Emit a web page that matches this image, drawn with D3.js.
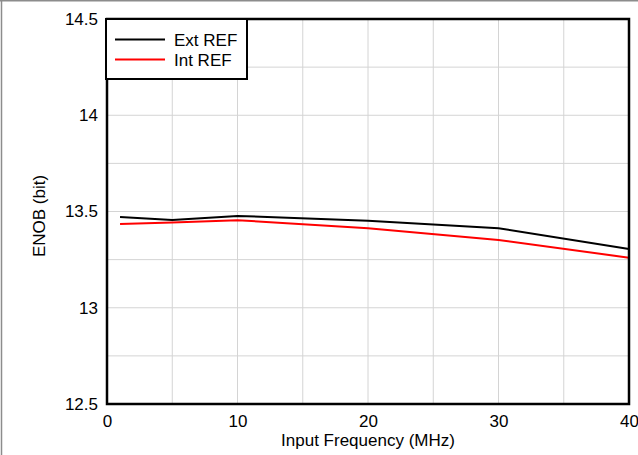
<!DOCTYPE html>
<html><head><meta charset="utf-8">
<script src="https://cdn.jsdelivr.net/npm/d3@7"></script>
<style>body{margin:0;background:#fff}svg{display:block}text{font-family:"Liberation Sans",Arial,sans-serif;fill:#000}</style>
</head><body>
<svg id="c" width="638" height="455"></svg>
<script>
const freq = [1, 5, 10, 20, 30, 40];
const extRef = [13.471, 13.456, 13.477, 13.452, 13.413, 13.305];
const intRef = [13.435, 13.443, 13.455, 13.413, 13.352, 13.26];
const seriesNames = ["Ext REF", "Int REF"];
const seriesColors = ["#000000", "#ff0000"];
const xTicks = [0, 10, 20, 30, 40];
const yTicks = [12.5, 13, 13.5, 14, 14.5];
const xGrid = [5, 10, 15, 20, 25, 30, 35];
const yGrid = [12.75, 13, 13.25, 13.5, 13.75, 14, 14.25];

const svg = d3.select("#c");
const L = 107, R = 629, T = 19, B = 404;
const x = d3.scaleLinear().domain([0, 40]).range([L, R]);
const y = d3.scaleLinear().domain([12.5, 14.5]).range([B, T]);

// outer border (top & left visible)
svg.append("line").attr("x1",0).attr("x2",638).attr("y1",0.75).attr("y2",0.75).attr("stroke","#8c8c8c").attr("stroke-width",1.5);
svg.append("line").attr("x1",1.5).attr("x2",1.5).attr("y1",0).attr("y2",455).attr("stroke","#8c8c8c").attr("stroke-width",1.5);

// grid
svg.append("g").selectAll("line").data(xGrid).join("line")
  .attr("x1",d=>x(d)).attr("x2",d=>x(d)).attr("y1",T).attr("y2",B)
  .attr("stroke","#d4d4d4").attr("stroke-width",1);
svg.append("g").selectAll("line").data(yGrid).join("line")
  .attr("x1",L).attr("x2",R).attr("y1",d=>y(d)).attr("y2",d=>y(d))
  .attr("stroke","#d4d4d4").attr("stroke-width",1);

// axes (labels only)
const xa = svg.append("g").attr("transform",`translate(0,${B})`)
  .call(d3.axisBottom(x).tickValues(xTicks).tickSize(0).tickPadding(11).tickFormat(d3.format("d")));
xa.select(".domain").remove();
xa.selectAll("text").attr("font-size",17).style("font-family","Liberation Sans, Arial, sans-serif");
const ya = svg.append("g").attr("transform",`translate(${L},0)`)
  .call(d3.axisLeft(y).tickValues(yTicks).tickSize(0).tickPadding(9).tickFormat(d=>String(d)));
ya.select(".domain").remove();
ya.selectAll("text").attr("font-size",17).style("font-family","Liberation Sans, Arial, sans-serif");

// series
const line = d3.line().x(d=>x(d[0])).y(d=>y(d[1]));
[extRef, intRef].forEach((vals,i)=>{
  svg.append("path").datum(freq.map((f,j)=>[f,vals[j]]))
    .attr("d",line).attr("fill","none").attr("stroke",seriesColors[i]).attr("stroke-width",2);
});

// frame
svg.append("rect").attr("x",L).attr("y",T).attr("width",R-L).attr("height",B-T)
  .attr("fill","none").attr("stroke","#000").attr("stroke-width",2.5);

// legend
const lg = svg.append("g");
lg.append("rect").attr("x",106).attr("y",19).attr("width",141).attr("height",60)
  .attr("fill","#fff").attr("stroke","#000").attr("stroke-width",2);
seriesNames.forEach((n,i)=>{
  const yy = 39.5 + i*20;
  lg.append("line").attr("x1",115).attr("x2",165).attr("y1",yy).attr("y2",yy)
    .attr("stroke",seriesColors[i]).attr("stroke-width",2);
  lg.append("text").attr("x",174).attr("y",yy+6).attr("font-size",17).text(n);
});

// axis titles
svg.append("text").attr("x",(L+R)/2).attr("y",446).attr("text-anchor","middle").attr("font-size",17)
  .text("Input Frequency (MHz)");
svg.append("text").attr("transform",`translate(45,216) rotate(-90)`).attr("text-anchor","middle").attr("font-size",17)
  .text("ENOB (bit)");
</script>
</body></html>
